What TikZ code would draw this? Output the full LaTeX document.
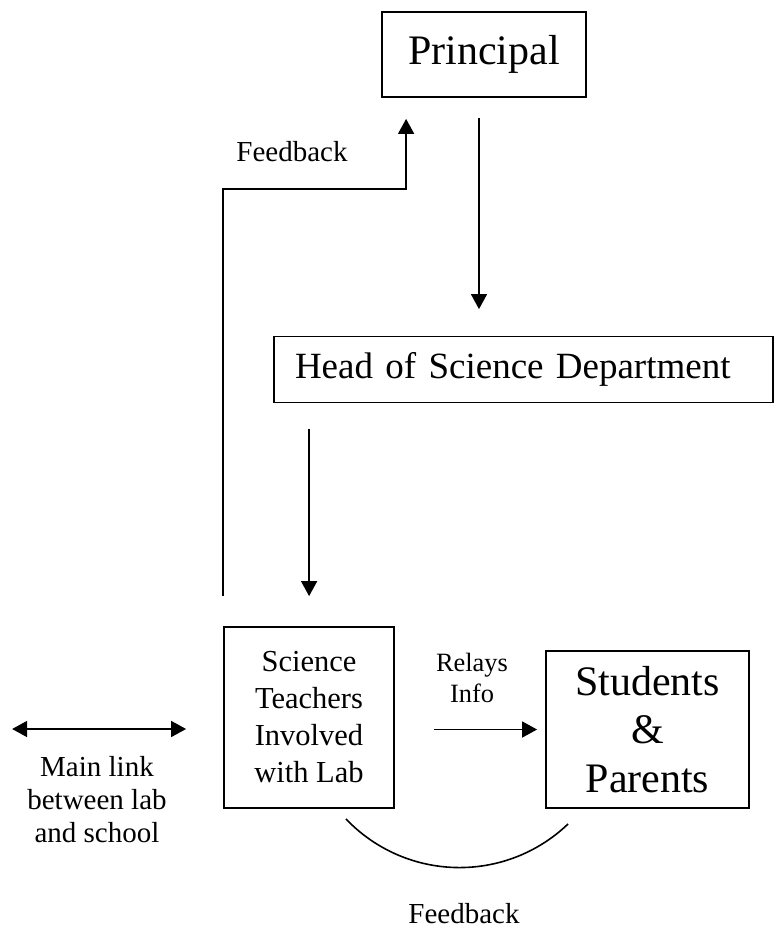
\documentclass[tikz,border=0pt]{standalone}
\usepackage{fontspec}
\setmainfont{Liberation Serif}
\usetikzlibrary{arrows.meta,calc}
\tikzset{>={Triangle[length=7.5pt,width=8pt]}}
\tikzstyle{box}=[draw,line width=0.9pt,inner sep=0pt,align=center]
\tikzstyle{edge} = [draw,line width=0.8pt,->]
\tikzstyle{undirectededge} = [draw,line width=0.8pt]
\tikzstyle{note} = [align=center,inner sep=0pt,font=\fontsize{14.5}{16.5}\selectfont]

\begin{document}
\begin{tikzpicture}[x=0.5pt,y=-0.5pt]
   \useasboundingbox (0,0) rectangle (780,931);

   % boxes
   \node[box,minimum width=102pt,minimum height=42.5pt,font=\fontsize{21}{25}\selectfont] (principal) at (484,54.5) {Principal};
   \node[box,minimum height=33pt,text width=228.5pt,inner xsep=10.5pt,align=left,font=\fontsize{18.5}{22}\selectfont] (hsd) at (523.5,369.5) {Head of Science Department};
   \node[box,minimum width=85pt,minimum height=90.5pt,font=\fontsize{15.25}{18.5}\selectfont] (teachers) at (309,717.5) {Science\\Teachers\\Involved\\with Lab};
   \node[box,minimum width=101.5pt,minimum height=78.5pt,font=\fontsize{21}{24.25}\selectfont] (students) at (647.5,729.5) {Students\\\&\\Parents};

   % free ends of the connectors
   \coordinate (p1) at ($(principal.south)+(-5,20)$);
   \coordinate (h1) at ($(hsd.south west)+(36,26)$);
   \coordinate (fbturn) at ($(principal.south west)+(25,91)$);
   \coordinate (linkend) at ($(teachers.west)+(-211,11.5)$);
   \coordinate (arcA) at ($(teachers.south east)+(-49,10)$);
   \coordinate (arcB) at ($(students.south west)+(23,15)$);

   % downward arrows
   \foreach \source/ \dest/\gap in {p1/hsd/13.25pt, h1/teachers/15pt}
        \path[edge,shorten >=\gap] (\source) -- (\source |- \dest.north);

   % feedback to principal
   \path[edge,shorten >=10.5pt] ([yshift=15pt]teachers.north west) |- (fbturn) -- (fbturn |- principal.south);
   \node[note] (fbtop) at (292,152) {Feedback};

   % relays info
   \path[edge,shorten <=19.5pt,shorten >=4pt] (teachers.east |- students.west) -- (students.west);
   \node[note,font=\fontsize{13.2}{15.5}\selectfont] (relays) at (472,678) {Relays\\Info};

   % main link
   \path[edge,<->,shorten >=18.5pt] (linkend) -- (linkend -| teachers.west);
   \node[note] (mainlink) at (97,800) {Main link\\between lab\\and school};

   % feedback from students
   \path[undirectededge] (arcA) to[bend right=45] (arcB);
   \node[note] (fbbottom) at (464,914) {Feedback};

\end{tikzpicture}
\end{document}
